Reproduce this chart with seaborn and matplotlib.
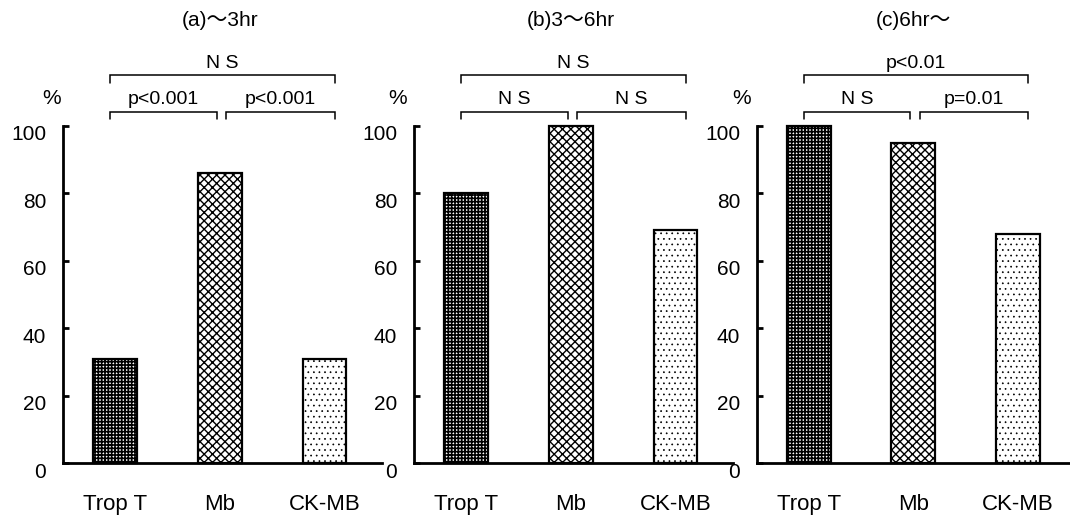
import matplotlib
matplotlib.use("Agg")
import matplotlib.pyplot as plt
import matplotlib.transforms as mtransforms
import seaborn as sns
import pandas as pd

sns.set_style("white")
plt.rcParams['font.family'] = ['Liberation Sans', 'Noto Sans CJK JP', 'DejaVu Sans']
plt.rcParams['hatch.linewidth'] = 1.1
plt.rcParams['text.color'] = 'black'
plt.rcParams['xtick.color'] = 'black'
plt.rcParams['ytick.color'] = 'black'
plt.rcParams['axes.labelcolor'] = 'black'

# ---- data ----
categories = ["Trop T", "Mb", "CK-MB"]
panel_titles = ["(a)～3hr", "(b)3～6hr", "(c)6hr～"]
values_a = [31, 86, 31]
values_b = [80, 100, 69]
values_c = [100, 95, 68]
yticks = [0, 20, 40, 60, 80, 100]
top_labels = ["N S", "N S", "p<0.01"]
left_labels = ["p<0.001", "N S", "N S"]
right_labels = ["p<0.001", "N S", "p=0.01"]

hatches = ["+++++", "xxxx", "..."]
hatch_lws = [1.2, 1.0, 0.5]

W, H = 1070, 515
fig = plt.figure(figsize=(W / 100, H / 100), dpi=100)
fig.patch.set_facecolor("white")

# axes boxes in pixels: left, right
boxes = [(63, 382), (414, 733), (757, 1075)]
pct_offsets = [-11, -16, -15]
y_top_px, y_bot_px = 126, 463

all_values = [values_a, values_b, values_c]

for i, (l, r) in enumerate(boxes):
    ax = fig.add_axes([l / W, 1 - y_bot_px / H, (r - l) / W, (y_bot_px - y_top_px) / H])
    df = pd.DataFrame({"cat": categories, "val": all_values[i]})
    sns.barplot(data=df, x="cat", y="val", ax=ax, color="white",
                edgecolor="black", linewidth=1.6, width=0.42, saturation=1)
    for p, h, hl in zip(ax.patches, hatches, hatch_lws):
        p.set_hatch(h)
        if hasattr(p, "set_hatch_linewidth"):
            p.set_hatch_linewidth(hl)
        p.set_facecolor("white")
        p.set_edgecolor("black")
        p.set_clip_on(False)
    ax.set_xlim(-0.5, 2.55)
    ax.set_ylim(0, 100)
    ax.set_yticks(yticks)
    ax.set_yticklabels([str(t) for t in yticks], fontsize=15)
    ax.set_xlabel("")
    ax.set_ylabel("")
    ax.set_facecolor("none")
    for s in ["top", "right"]:
        ax.spines[s].set_visible(False)
    for s in ["left", "bottom"]:
        ax.spines[s].set_linewidth(2.0)
        ax.spines[s].set_color("black")
    ax.tick_params(axis="y", direction="in", length=4, width=2, pad=12, left=True)
    ax.tick_params(axis="x", length=0, pad=22, labelsize=16)
    off = mtransforms.ScaledTranslation(0, -7 / 100, fig.dpi_scale_trans)
    for lab in ax.get_yticklabels():
        lab.set_transform(lab.get_transform() + off)

    # percent label
    ax.annotate("%", xy=(0, 1), xycoords="axes fraction",
                xytext=(pct_offsets[i], 28), textcoords="offset pixels",
                ha="center", va="center", fontsize=15, annotation_clip=False)
    # title
    ax.annotate(panel_titles[i], xy=(1.0, 100), xycoords="data",
                xytext=(0, 105), textcoords="offset pixels",
                ha="center", va="center", fontsize=15, annotation_clip=False)

    # brackets
    def bracket(x0, x1, y, leg, text):
        ax.plot([x0, x0, x1, x1], [y - leg, y, y, y - leg], color="black",
                lw=1.1, clip_on=False, solid_joinstyle="miter")
        ax.text((x0 + x1) / 2, y + 3.6, text, ha="center", va="center", fontsize=14)

    bracket(-0.05, 2.1, 115.0, 2.2, top_labels[i])
    bracket(-0.05, 0.97, 104.2, 2.2, left_labels[i])
    bracket(1.06, 2.1, 104.2, 2.2, right_labels[i])

fig.savefig("out.png", dpi=100, facecolor="white")
